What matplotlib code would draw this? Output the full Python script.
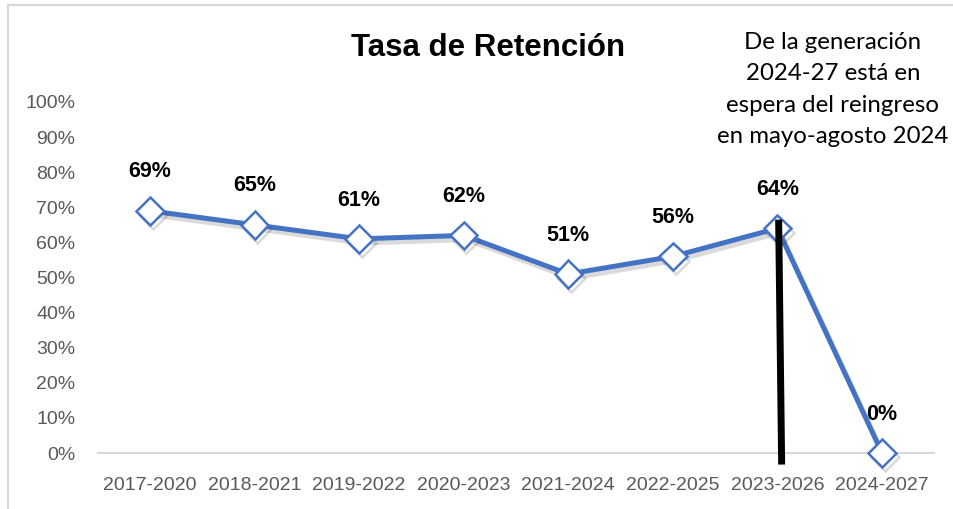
import matplotlib
matplotlib.use("Agg")
import matplotlib.pyplot as plt
import matplotlib.patheffects as pe
from matplotlib.lines import Line2D

categories = ["2017-2020", "2018-2021", "2019-2022", "2020-2023",
              "2021-2024", "2022-2025", "2023-2026", "2024-2027"]
retention = [69, 65, 61, 62, 51, 56, 64, 0]
yticks = [0, 10, 20, 30, 40, 50, 60, 70, 80, 90, 100]
title = "Tasa de Retención"
note = "De la generación\n2024-27 está en\nespera del reingreso\nen mayo-agosto 2024"

font = "Liberation Sans"

fig = plt.figure(figsize=(9.54, 5.09), dpi=100)
ax = fig.add_axes([97.7/954, 56/509, (934.3-97.7)/954, 351/509])

x = list(range(len(categories)))
ax.plot(x, retention, color="#4472C4", lw=3.6, marker="D", ms=14,
        markerfacecolor="white", markeredgecolor="#4472C4", mew=1.8,
        zorder=4, clip_on=False,
        path_effects=[pe.SimpleLineShadow(offset=(2, -3), alpha=0.18, shadow_color="#333333"),
                      pe.Normal()])

for xi, v in zip(x, retention):
    ax.annotate(f"{v}%", (xi, v), xytext=(0, 28), textcoords="offset points",
                ha="center", va="center", fontsize=15.5, fontweight="bold",
                family=font, color="black")

# black vertical marker line
ax.add_line(Line2D([6.012, 6.04], [65.5, -2.3], color="black", lw=5,
                   zorder=5, clip_on=False))

ax.set_xlim(-0.5, 7.5)
ax.set_ylim(0, 100)
ax.set_yticks(yticks)
ax.set_yticklabels([f"{t}%" for t in yticks])
ax.set_xticks(x)
ax.set_xticklabels(categories)
for lab in ax.get_xticklabels() + ax.get_yticklabels():
    lab.set_family(font)
    lab.set_fontsize(14)
    lab.set_color("#595959")
ax.tick_params(axis="both", length=0)
ax.tick_params(axis="y", pad=16)
ax.tick_params(axis="x", pad=17)
for s in ["top", "right", "left"]:
    ax.spines[s].set_visible(False)
ax.spines["bottom"].set_color("#d9d9d9")
ax.spines["bottom"].set_linewidth(1.5)

fig.text(488/954, 1 - 48/509, title, ha="center", va="center",
         fontsize=22.5, fontweight="bold", family=font, color="black")
fig.text(833/954, 1 - 89.5/509, note, ha="center", va="center",
         fontsize=17.3, family="Lato", color="black", linespacing=1.62)

# chart frame (left and top edges visible)
fig.add_artist(Line2D([8.5/954, 8.5/954], [0, 1 - 5/509], transform=fig.transFigure,
                      color="#d9d9d9", lw=1.6))
fig.add_artist(Line2D([8.5/954, 1], [1 - 5/509, 1 - 5/509], transform=fig.transFigure,
                      color="#d9d9d9", lw=1.6))

fig.savefig("out.png", dpi=100)
